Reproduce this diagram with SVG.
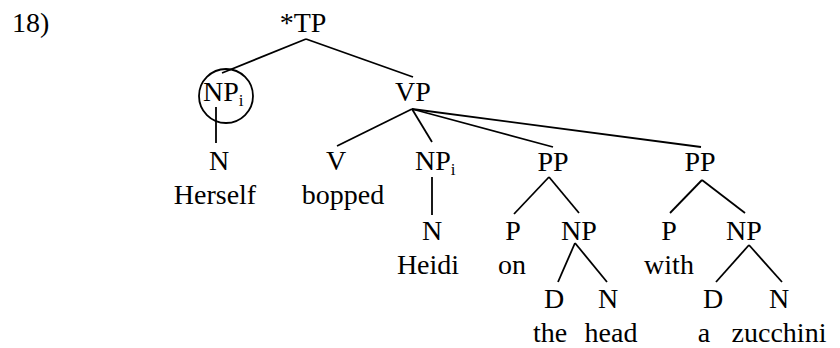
<svg xmlns="http://www.w3.org/2000/svg" width="840" height="348" viewBox="0 0 840 348">
<style>
text{font-family:"Liberation Serif","Times New Roman",serif;font-size:28px;fill:#000;text-anchor:middle}
.l{text-anchor:start}
.sub{font-size:17px}
line,circle{stroke:#000;stroke-width:1.8;fill:none}
</style>
<rect width="840" height="348" fill="#fff"/>
<text class="l" x="12" y="32">18)</text>
<g id="connectors">
<line x1="306" y1="39" x2="222" y2="73"/>
<line x1="306" y1="39" x2="413" y2="77"/>
<line x1="216" y1="107" x2="216" y2="143"/>
<line x1="412" y1="109" x2="337" y2="146"/>
<line x1="412" y1="109" x2="432" y2="142"/>
<line x1="412" y1="109" x2="553" y2="147"/>
<line x1="412" y1="109" x2="701" y2="147"/>
<line x1="432" y1="177" x2="432" y2="215"/>
<line x1="549" y1="177" x2="514" y2="214"/>
<line x1="549" y1="177" x2="579" y2="213"/>
<line x1="702" y1="180" x2="670" y2="213"/>
<line x1="702" y1="180" x2="745" y2="213"/>
<line x1="575" y1="243" x2="558" y2="282"/>
<line x1="575" y1="243" x2="607" y2="282"/>
<line x1="749" y1="245" x2="716" y2="282"/>
<line x1="749" y1="245" x2="782" y2="282"/>
</g>
<g id="tp"><text x="303" y="32">*TP</text></g>
<g id="np-subj"><circle cx="226" cy="96" r="27"/><text class="l" x="203" y="101">NP<tspan class="sub" dy="5">i</tspan></text></g>
<g id="vp"><text x="413" y="101">VP</text></g>
<g id="n-herself"><text x="219" y="170">N</text><text x="215" y="204">Herself</text></g>
<g id="v-bopped"><text x="336" y="170">V</text><text x="343" y="204">bopped</text></g>
<g id="np-obj"><text class="l" x="415" y="170">NP<tspan class="sub" dy="5">i</tspan></text></g>
<g id="n-heidi"><text x="432" y="240">N</text><text x="428" y="274">Heidi</text></g>
<g id="pp1"><text x="553" y="171">PP</text></g>
<g id="p-on"><text x="513" y="240">P</text><text x="512" y="274">on</text></g>
<g id="np1"><text x="579" y="240">NP</text></g>
<g id="d-the"><text x="554" y="308">D</text><text x="550" y="342">the</text></g>
<g id="n-head"><text x="608" y="308">N</text><text x="611" y="342">head</text></g>
<g id="pp2"><text x="700" y="171">PP</text></g>
<g id="p-with"><text x="669" y="240">P</text><text x="669" y="274">with</text></g>
<g id="np2"><text x="744" y="240">NP</text></g>
<g id="d-a"><text x="713" y="308">D</text><text x="704" y="342">a</text></g>
<g id="n-zucchini"><text x="779" y="308">N</text><text x="779" y="342">zucchini</text></g>
</svg>
